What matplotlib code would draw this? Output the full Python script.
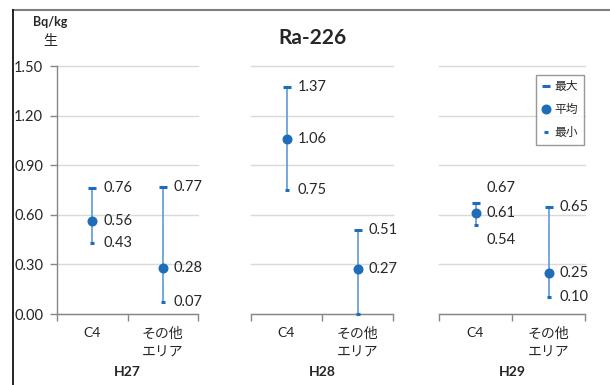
import matplotlib
matplotlib.use("Agg")
import matplotlib.pyplot as plt
from matplotlib.lines import Line2D

plt.rcParams['font.family'] = ['Lato', 'Noto Sans CJK JP', 'DejaVu Sans']

years = ["H27", "H28", "H29"]
categories = ["C4", "その他\nエリア"]
max_vals = [[0.76, 0.77], [1.37, 0.51], [0.67, 0.65]]
mean_vals = [[0.56, 0.28], [1.06, 0.27], [0.61, 0.25]]
min_vals = [[0.43, 0.07], [0.75, 0.00], [0.54, 0.10]]
max_labels = [["0.76", "0.77"], ["1.37", "0.51"], ["0.67", "0.65"]]
mean_labels = [["0.56", "0.28"], ["1.06", "0.27"], ["0.61", "0.25"]]
min_labels = [["0.43", "0.07"], ["0.75", ""], ["0.54", "0.10"]]
yticks = [0.0, 0.3, 0.6, 0.9, 1.2, 1.5]
ytick_labels = ["0.00", "0.30", "0.60", "0.90", "1.20", "1.50"]

W, H = 610, 385
fig = plt.figure(figsize=(W / 100, H / 100), dpi=100)
fig.patch.set_facecolor('white')

panels_px = [(57, 198), (251, 393), (439, 585)]
top_px, bot_px = 66, 314

line_c = '#5B9BD5'
mark_c = '#1F6DB8'
grid_c = '#D9D9D9'
axis_c = '#868686'
txt_c = '#262626'
num_fs = 10.5

for i, (l, r) in enumerate(panels_px):
    ax = fig.add_axes([l / W, (H - bot_px) / H, (r - l) / W, (bot_px - top_px) / H])
    ax.set_xlim(0, 2)
    ax.set_ylim(0, 1.5)
    for s in ['top', 'right']:
        ax.spines[s].set_visible(False)
    ax.spines['bottom'].set_color(axis_c)
    ax.spines['bottom'].set_linewidth(1.0)
    ax.set_yticks(yticks)
    ax.yaxis.grid(True, color=grid_c, lw=1.0)
    for gl in ax.get_ygridlines():
        gl.set_clip_on(False)
    ax.set_axisbelow(True)
    if i == 0:
        ax.spines['left'].set_color(axis_c)
        ax.spines['left'].set_linewidth(1.0)
        ax.set_yticklabels(ytick_labels)
        ax.tick_params(axis='y', length=5, width=1, color=axis_c, pad=5,
                       labelsize=num_fs, labelcolor=txt_c)
    else:
        ax.spines['left'].set_visible(False)
        ax.tick_params(axis='y', length=0, labelleft=False)
    ax.set_xticks([0, 1, 2])
    ax.set_xticklabels([])
    ax.tick_params(axis='x', which='major', length=5, width=1, color=axis_c)
    # category labels placed under each category position, one line at a time
    for x, cat in zip([0.5, 1.5], categories):
        for k, line in enumerate(cat.split('\n')):
            ax.annotate(line, (x, 0), xycoords=('data', 'axes fraction'),
                        xytext=(0, -14 - 14 * k), textcoords='offset points',
                        ha='center', va='center', fontsize=10, color=txt_c,
                        annotation_clip=False)

    xs = [0.5, 1.5]
    for j, x in enumerate(xs):
        ax.vlines(x, min_vals[i][j], max_vals[i][j], color=line_c, lw=1.2, zorder=3)
        ax.plot(x, max_vals[i][j], marker='_', ms=5.5, mew=2.2, color=mark_c, zorder=4, clip_on=False)
        ax.plot(x, min_vals[i][j], marker='_', ms=3.2, mew=2.2, color=mark_c, zorder=4, clip_on=False)
        ax.plot(x, mean_vals[i][j], marker='o', ms=6.2, color=mark_c, zorder=5)
        dy_max, dy_min = 0, 0
        if i == 2 and j == 0:
            dy_max, dy_min = 11, -11
        ax.annotate(max_labels[i][j], (x, max_vals[i][j]), xytext=(8, dy_max),
                    textcoords='offset points', va='center', ha='left', fontsize=num_fs, color=txt_c)
        ax.annotate(mean_labels[i][j], (x, mean_vals[i][j]), xytext=(8, 0),
                    textcoords='offset points', va='center', ha='left', fontsize=num_fs, color=txt_c)
        if min_labels[i][j]:
            ax.annotate(min_labels[i][j], (x, min_vals[i][j]), xytext=(8, dy_min),
                        textcoords='offset points', va='center', ha='left', fontsize=num_fs, color=txt_c)

    fig.text((l + r) / 2 / W, (H - 372) / H, years[i], ha='center', va='center',
             fontsize=10, fontweight='bold', color=txt_c)

fig.text(313 / W, (H - 38) / H, 'Ra-226', ha='center', va='center',
         fontsize=15, fontweight='bold', color=txt_c)
fig.text(50 / W, (H - 22) / H, 'Bq/kg', ha='center', va='center',
         fontsize=9, fontweight='bold', color=txt_c)
fig.text(50 / W, (H - 40) / H, '生', ha='center', va='center',
         fontsize=10, color=txt_c)

handles = [
    Line2D([], [], marker='_', ms=5.5, mew=2.2, color=mark_c, ls='none'),
    Line2D([], [], marker='o', ms=6.2, color=mark_c, ls='none'),
    Line2D([], [], marker='_', ms=3.2, mew=2.2, color=mark_c, ls='none'),
]
leg = fig.legend(handles, ['最大', '平均', '最小'], loc='upper right',
                 bbox_to_anchor=(584 / W, (H - 75) / H), fontsize=8.5,
                 frameon=True, fancybox=False, edgecolor='#7F7F7F',
                 handlelength=0.7, handletextpad=0.3, labelspacing=1.0,
                 borderpad=0.55, borderaxespad=0)
leg.get_frame().set_linewidth(1.0)
for t in leg.get_texts():
    t.set_color(txt_c)

# outer chart frame (partly cropped)
fig.add_artist(Line2D([13 / W, 1.0], [(H - 10) / H, (H - 10) / H], color='#7F7F7F', lw=1.5))
fig.add_artist(Line2D([13 / W, 13 / W], [0, (H - 10) / H], color='#000000', lw=1.2))

fig.savefig('out.png', dpi=100)
